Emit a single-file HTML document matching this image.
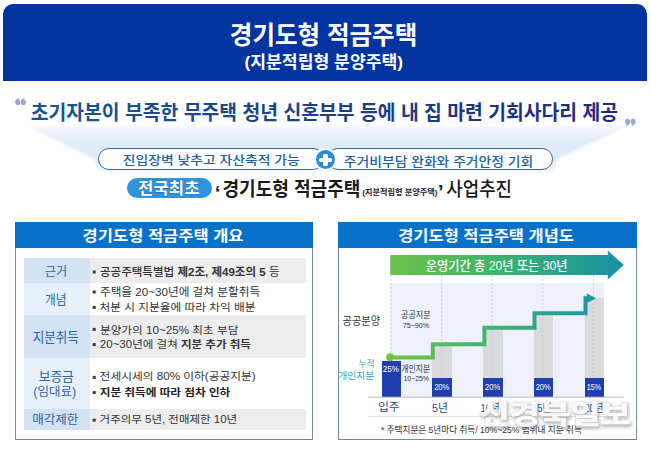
<!DOCTYPE html>
<html lang="ko">
<head>
<meta charset="utf-8">
<title>경기도형 적금주택</title>
<style>
html,body{margin:0;padding:0;background:#fff;}
body{width:651px;height:451px;position:relative;overflow:hidden;font-family:"Liberation Sans",sans-serif;}
.abs{position:absolute;box-sizing:border-box;}
#hdr{left:3px;top:4px;width:644px;height:76.5px;background:#0334a0;border-radius:10px 10px 0 0;}
#glow{left:0;top:81px;width:651px;height:44px;background:#fff;}
.pill{top:148.3px;height:22px;border:1.5px solid #3a6c9c;border-radius:11px;background:#fff;}
#pill1{left:98.1px;width:226px;}
#pill2{left:327px;width:226.4px;}
#plus{left:315.9px;top:150.3px;width:19.2px;height:19.2px;border-radius:50%;background:#2a8bd7;box-shadow:0 0 0 1.8px #fff;}
#plus:before{content:"";position:absolute;left:3.4px;top:7.6px;width:12.8px;height:4.4px;background:#fff;border-radius:1.5px;}
#plus:after{content:"";position:absolute;left:7.6px;top:3.4px;width:4.4px;height:12.8px;background:#fff;border-radius:1.5px;}
#badge{left:127.2px;top:177.6px;width:84.4px;height:20.2px;border-radius:10px;background:#2e93db;}
.panel{top:222px;height:217.6px;border:1px solid #74899a;background:#fff;}
.phead{position:absolute;left:-1px;top:-1px;right:-1px;height:25.6px;background:#0872ca;}
#lp{left:14.8px;width:298.7px;}
#rp{left:338.1px;width:298.5px;}
.lab{left:24.2px;width:65.4px;}
.con{left:89.6px;width:216.2px;}
.la{background:#d3e3f4;}
.lb{background:#e6f0fa;}
.cg{background:#ececec;}
.bar{width:19.4px;background:#1f3fae;z-index:3;}
.gbar{width:19.4px;background:#dadadd;z-index:1;}
#chartbg{left:390px;top:283.4px;width:214px;height:113.6px;background:#eff1fa;z-index:1;}
svg{position:absolute;left:0;top:0;}
svg text{font-family:"Liberation Sans","Noto Sans CJK KR",sans-serif;white-space:pre;}
</style>
</head>
<body>
<div id="glow" class="abs"></div>
<svg width="651" height="451" viewBox="0 0 651 451" style="z-index:0">
<defs>
<linearGradient id="fun" x1="0" y1="0" x2="0" y2="1"><stop offset="0" stop-color="#f2f7fd"/><stop offset="0.35" stop-color="#e0ecf9"/><stop offset="0.75" stop-color="#dbe9f7"/><stop offset="1" stop-color="#e8f1fb"/></linearGradient>
<filter id="fb" x="-5%" y="-10%" width="110%" height="120%"><feGaussianBlur stdDeviation="1.6"/></filter>
</defs>
<polygon points="27,126.5 627,126.5 557,159 554,171 98,171 95,159" fill="url(#fun)" filter="url(#fb)"/>
</svg>
<div id="hdr" class="abs"></div>
<div id="pill1" class="abs pill"></div>
<div id="pill2" class="abs pill"></div>
<div id="plus" class="abs"></div>
<div id="badge" class="abs"></div>

<div id="lp" class="abs panel"><div class="phead"></div></div>
<div class="abs lab la" style="top:258.4px;height:25px"></div><div class="abs con cg" style="top:258.4px;height:25px"></div>
<div class="abs lab lb" style="top:283.4px;height:32px"></div>
<div class="abs lab la" style="top:315.4px;height:42.6px"></div><div class="abs con cg" style="top:315.4px;height:42.6px"></div>
<div class="abs lab lb" style="top:358px;height:50.8px"></div>
<div class="abs lab la" style="top:408.8px;height:20.8px"></div><div class="abs con cg" style="top:408.8px;height:20.8px"></div>

<div id="rp" class="abs panel"><div class="phead"></div></div>
<div id="chartbg" class="abs"></div>
<div class="abs gbar" style="left:432.4px;top:344.3px;height:33.7px"></div>
<div class="abs gbar" style="left:483.2px;top:327.6px;height:50.4px"></div>
<div class="abs gbar" style="left:533.8px;top:313.2px;height:64.8px"></div>
<div class="abs gbar" style="left:584.8px;top:298.2px;height:79.8px"></div>
<div class="abs bar" style="left:381.6px;top:360.8px;height:36.2px"></div>
<div class="abs bar" style="left:432.4px;top:378px;height:19px"></div>
<div class="abs bar" style="left:483.2px;top:378px;height:19px"></div>
<div class="abs bar" style="left:533.8px;top:378px;height:19px"></div>
<div class="abs bar" style="left:584.8px;top:378px;height:19px"></div>

<svg width="651" height="451" viewBox="0 0 651 451" style="z-index:2">
<g stroke="#c3c7d6" stroke-width="0.8" stroke-dasharray="2 2" fill="none">
<path d="M391 275V397M441.7 275V397M492.2 275V397M542.8 275V397M593.4 275V397"/>
</g>
</svg>
<svg width="651" height="451" viewBox="0 0 651 451" style="z-index:4">
<defs>
<linearGradient id="ga" x1="390" y1="0" x2="624" y2="0" gradientUnits="userSpaceOnUse"><stop offset="0" stop-color="#6cc24a"/><stop offset="0.45" stop-color="#3db46d"/><stop offset="1" stop-color="#1890a6"/></linearGradient>
<linearGradient id="gl" x1="390" y1="0" x2="596" y2="0" gradientUnits="userSpaceOnUse"><stop offset="0" stop-color="#72c343"/><stop offset="0.5" stop-color="#3cb371"/><stop offset="1" stop-color="#1c95a2"/></linearGradient>
<linearGradient id="gh" x1="30.7" y1="0" x2="619" y2="0" gradientUnits="userSpaceOnUse"><stop offset="0" stop-color="#17578f"/><stop offset="1" stop-color="#1e2b7c"/></linearGradient>
<filter id="bl" x="-5%" y="-20%" width="110%" height="140%"><feGaussianBlur stdDeviation="1.4"/></filter>
</defs>
<!-- quote marks -->
<g fill="#93a5ca"><ellipse cx="17.8" cy="102.4" rx="2.5" ry="2.6"/><path d="M15.3 102.4 Q15.2 99 19 97.9 L19.4 99.1 Q17.4 99.9 17.7 101.7Z"/><ellipse cx="23.3" cy="102.4" rx="2.5" ry="2.6"/><path d="M20.8 102.4 Q20.7 99 24.5 97.9 L24.9 99.1 Q22.9 99.9 23.2 101.7Z"/></g>
<g fill="#9dadcf"><ellipse cx="627.6" cy="121.4" rx="2.5" ry="2.6"/><path d="M630.1 121.4 Q630.2 124.8 626.4 125.9 L626 124.7 Q628 123.9 627.7 122.1Z"/><ellipse cx="633.1" cy="121.4" rx="2.5" ry="2.6"/><path d="M635.6 121.4 Q635.7 124.8 631.9 125.9 L631.5 124.7 Q633.5 123.9 633.2 122.1Z"/></g>
<path d="M368 397.2H623.6" stroke="#b9bcc6" stroke-width="1"/>
<path d="M368 416.4H623.6" stroke="#dfe1e8" stroke-width="1"/>
<!-- arrow -->
<polygon points="390.2,254.9 607.8,254.9 607.8,250.6 623.8,265 607.8,279.4 607.8,274.9 390.2,274.9" fill="url(#ga)"/>
<!-- stepped line -->
<path d="M390.3 357.6 H432.8 V344.3 H484.4 V327.8 H534.5 V313.3 H585.5 V298.2 H590" fill="none" stroke="url(#gl)" stroke-width="4" stroke-linejoin="miter"/>
<polygon points="586.8,293.4 596,298.2 586.8,303" fill="#1c95a2"/>
<circle cx="390.2" cy="357.2" r="4" fill="#7ac143"/>
<rect x="92.7" y="270.5" width="3" height="3" fill="#3a3a3a"/><rect x="92.7" y="290.5" width="3" height="3" fill="#3a3a3a"/><rect x="92.7" y="305.9" width="3" height="3" fill="#3a3a3a"/><rect x="92.7" y="327.9" width="3" height="3" fill="#3a3a3a"/><rect x="92.7" y="343.1" width="3" height="3" fill="#3a3a3a"/><rect x="92.7" y="375.9" width="3" height="3" fill="#3a3a3a"/><rect x="92.7" y="391.1" width="3" height="3" fill="#3a3a3a"/><rect x="92.7" y="418.7" width="3" height="3" fill="#3a3a3a"/>

<text x="229.8" y="43.88" font-size="25.2" font-weight="700" fill="#ffffff" textLength="187.5" lengthAdjust="spacingAndGlyphs">경기도형 적금주택</text>
<text x="244.48" y="68.11" font-size="16.6" font-weight="700" fill="#ffffff" textLength="158.6" lengthAdjust="spacingAndGlyphs">(지분적립형 분양주택)</text>
<text x="30.73" y="119.57" font-size="19.9" font-weight="700" fill="url(#gh)" textLength="587.3" lengthAdjust="spacingAndGlyphs">초기자본이 부족한 무주택 청년 신혼부부 등에 내 집 마련 기회사다리 제공</text>
<text x="122.85" y="165.4" font-size="12.5" font-weight="500" fill="#225f9f" textLength="176.9" lengthAdjust="spacingAndGlyphs">진입장벽 낮추고 자산축적 가능</text>
<text x="343.83" y="165.53" font-size="12.75" font-weight="500" fill="#225f9f" textLength="189.4" lengthAdjust="spacingAndGlyphs">주거비부담 완화와 주거안정 기회</text>
<text x="138.08" y="194.36" font-size="15.5" font-weight="700" fill="#ffffff" stroke="#1b6ab4" stroke-width="0.86" paint-order="stroke" stroke-linejoin="round" textLength="61.6" lengthAdjust="spacingAndGlyphs">전국최초</text>
<text x="214.87" y="199.82" font-size="21" font-weight="700" fill="#1a1a1a">‘</text>
<text x="222.42" y="196.05" font-size="19.5" font-weight="700" fill="#1a1a1a" textLength="138.1" lengthAdjust="spacingAndGlyphs">경기도형 적금주택</text>
<text x="362.25" y="195.33" font-size="8" font-weight="700" fill="#1a1a1a" textLength="75.2" lengthAdjust="spacingAndGlyphs">(지분적립형 분양주택)</text>
<text x="437.68" y="198.61" font-size="21" font-weight="700" fill="#1a1a1a">’</text>
<text x="446.35" y="195.91" font-size="19.2" font-weight="500" fill="#1a1a1a" textLength="65.7" lengthAdjust="spacingAndGlyphs">사업추진</text>

<text x="82.63" y="240.88" font-size="15.2" font-weight="700" fill="#ffffff" textLength="160.9" lengthAdjust="spacingAndGlyphs">경기도형 적금주택 개요</text>
<text x="44.85" y="275.89" font-size="12.3" fill="#31639f" textLength="22.4" lengthAdjust="spacingAndGlyphs">근거</text>
<text x="45" y="304.16" font-size="12.7" fill="#31639f" textLength="21.6" lengthAdjust="spacingAndGlyphs">개념</text>
<text x="32.69" y="342.41" font-size="13.15" fill="#31639f" textLength="46.2" lengthAdjust="spacingAndGlyphs">지분취득</text>
<text x="38.67" y="380.91" font-size="12.95" fill="#31639f" textLength="35.2" lengthAdjust="spacingAndGlyphs">보증금</text>
<text x="33.36" y="395.89" font-size="12.1" fill="#31639f" textLength="42.8" lengthAdjust="spacingAndGlyphs">(임대료)</text>
<text x="32.16" y="424.11" font-size="12.05" fill="#31639f" textLength="46.2" lengthAdjust="spacingAndGlyphs">매각제한</text>

<text x="99.93" y="275.7" font-size="11.2" fill="#333333" textLength="179.6" lengthAdjust="spacingAndGlyphs"><tspan font-weight="500">공공주택특별법 </tspan><tspan font-weight="700">제2조, 제49조의 5</tspan><tspan font-weight="400"> 등</tspan></text>
<text x="99.93" y="295.83" font-size="10.9" fill="#333333" textLength="160.2" lengthAdjust="spacingAndGlyphs">주택을 20~30년에 걸쳐 분할취득</text>
<text x="99.62" y="311.14" font-size="10.75" fill="#333333" textLength="156" lengthAdjust="spacingAndGlyphs">처분 시 지분율에 따라 차익 배분</text>
<text x="99.91" y="334.01" font-size="10.7" fill="#333333" textLength="138.6" lengthAdjust="spacingAndGlyphs">분양가의 10~25% 최초 부담</text>
<text x="99.84" y="348.35" font-size="10.1" fill="#333333" textLength="151.1" lengthAdjust="spacingAndGlyphs">20~30년에 걸쳐 <tspan font-weight="700">지분 추가 취득</tspan></text>
<text x="99.64" y="380.47" font-size="10.2" fill="#333333" textLength="156" lengthAdjust="spacingAndGlyphs">전세시세의 80% 이하(공공지분)</text>
<text x="99.72" y="395.84" font-size="10.2" font-weight="700" fill="#222222" textLength="130.6" lengthAdjust="spacingAndGlyphs">지분 취득에 따라 점차 인하</text>
<text x="99.57" y="423.05" font-size="10" fill="#333333" textLength="137.6" lengthAdjust="spacingAndGlyphs">거주의무 5년, 전매제한 10년</text>

<text x="398.24" y="240.88" font-size="15.2" font-weight="700" fill="#ffffff" textLength="175.7" lengthAdjust="spacingAndGlyphs">경기도형 적금주택 개념도</text>
<text x="425.69" y="270.15" font-size="13" font-weight="500" fill="#ffffff" textLength="141.9" lengthAdjust="spacingAndGlyphs">운영기간 총 20년 또는 30년</text>
<text x="342.57" y="324.88" font-size="10.8" fill="#333333" textLength="37.5" lengthAdjust="spacingAndGlyphs">공공분양</text>
<text x="400.96" y="318.12" font-size="8.7" fill="#333333" textLength="29.7" lengthAdjust="spacingAndGlyphs">공공지분</text>
<text x="402.72" y="328.46" font-size="7.9" fill="#333333" textLength="26.5" lengthAdjust="spacingAndGlyphs">75~90%</text>
<text x="358.41" y="367.34" font-size="8.7" fill="#38a3c4" textLength="16.2" lengthAdjust="spacingAndGlyphs">누적</text>
<text x="338.38" y="379.13" font-size="9.65" fill="#38a3c4" textLength="36" lengthAdjust="spacingAndGlyphs">개인지분</text>
<text x="382.83" y="372.43" font-size="9.35" font-weight="500" fill="#ffffff" textLength="16.2" lengthAdjust="spacingAndGlyphs">25%</text>
<text x="401.3" y="372.37" font-size="9.2" fill="#333333" textLength="28.8" lengthAdjust="spacingAndGlyphs">개인지분</text>
<text x="403.52" y="381.27" font-size="7.4" fill="#333333" textLength="25.4" lengthAdjust="spacingAndGlyphs">10~25%</text>
<text x="434.15" y="389.64" font-size="9.1" font-weight="500" fill="#ffffff" textLength="15.2" lengthAdjust="spacingAndGlyphs">20%</text>
<text x="484.95" y="389.64" font-size="9.1" font-weight="500" fill="#ffffff" textLength="15.2" lengthAdjust="spacingAndGlyphs">20%</text>
<text x="535.65" y="389.64" font-size="9.1" font-weight="500" fill="#ffffff" textLength="15.2" lengthAdjust="spacingAndGlyphs">20%</text>
<text x="586.65" y="389.64" font-size="9.1" font-weight="500" fill="#ffffff" textLength="14.5" lengthAdjust="spacingAndGlyphs">15%</text>
<text x="377.98" y="411.35" font-size="11.4" fill="#2a4b86" textLength="21.7" lengthAdjust="spacingAndGlyphs">입주</text>
<text x="432.06" y="411.68" font-size="11.8" fill="#2a4b86" textLength="15.9" lengthAdjust="spacingAndGlyphs">5년</text>
<text x="480.58" y="411.68" font-size="11.8" fill="#2a4b86" textLength="19.1" lengthAdjust="spacingAndGlyphs">10년</text>
<text x="531.97" y="411.68" font-size="11.8" fill="#2a4b86" textLength="19.2" lengthAdjust="spacingAndGlyphs">15년</text>
<text x="583.88" y="411.68" font-size="11.8" fill="#2a4b86" textLength="19.6" lengthAdjust="spacingAndGlyphs">20년</text>
<text x="381.01" y="433.08" font-size="9.35" fill="#333333" textLength="200.8" lengthAdjust="spacingAndGlyphs">* 주택지분은 5년마다 취득/ 10%~25% 범위내 지분 취득</text>
<text x="480.41" y="426.11" font-size="27.1" font-weight="700" fill="#6a6a6a" opacity="0.42" filter="url(#bl)" stroke="#6a6a6a" stroke-width="2.46" stroke-linejoin="round" textLength="151.4" lengthAdjust="spacingAndGlyphs">신경북일보</text>
<text x="479.41" y="424.36" font-size="26.5" font-weight="700" fill="#ffffff" opacity="0.9" stroke="#ffffff" stroke-width="0.65" stroke-linejoin="round" textLength="151.4" lengthAdjust="spacingAndGlyphs">신경북일보</text>
</svg>
</body>
</html>
